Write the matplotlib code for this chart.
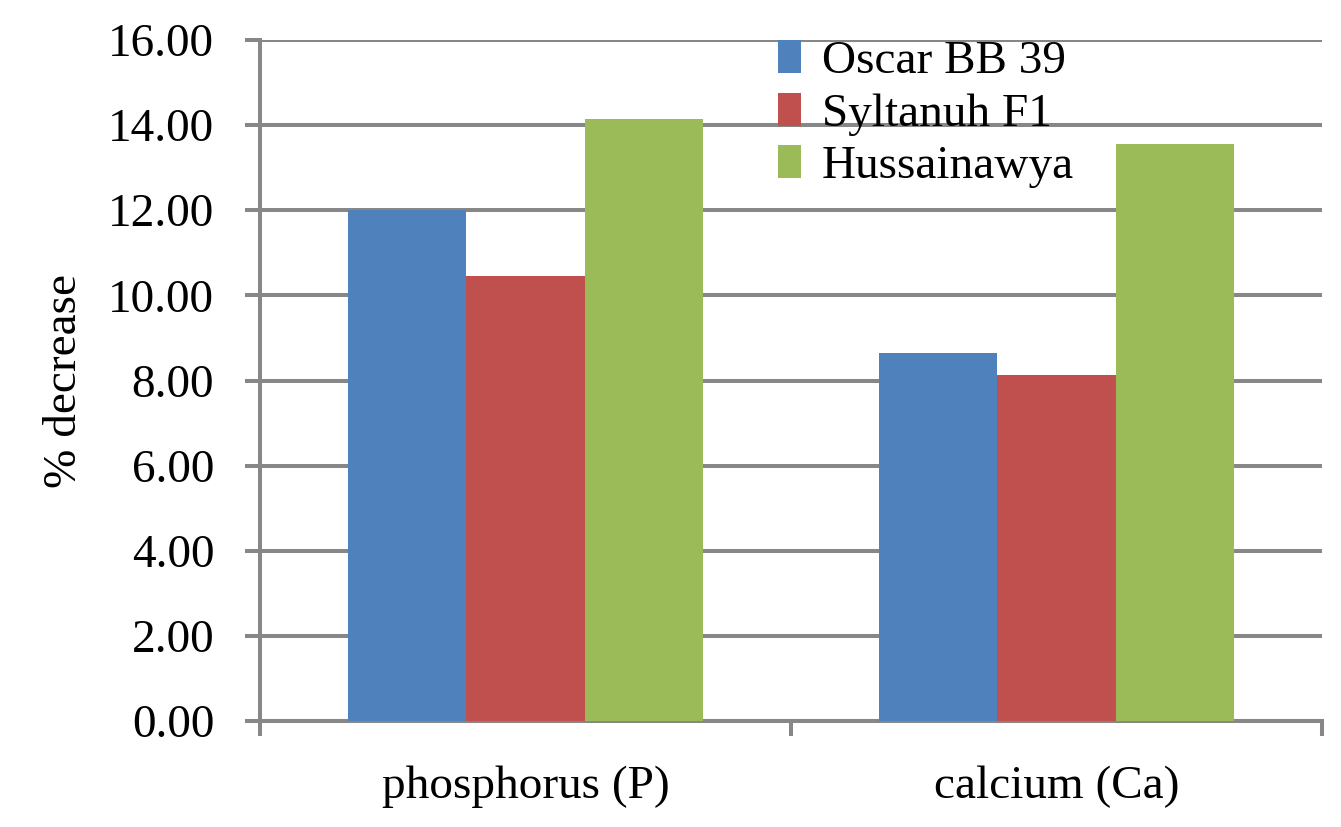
import matplotlib.pyplot as plt
import numpy as np

categories = ["phosphorus (P)", "calcium (Ca)"]
oscar = [12.00, 8.64]
syltanuh = [10.45, 8.14]
hussainawya = [14.14, 13.55]
series_names = ["Oscar BB 39", "Syltanuh F1", "Hussainawya"]
colors = ["#4F81BD", "#C0504D", "#9BBB59"]
yticks = np.arange(0, 16.01, 2)

plt.rcParams['font.family'] = ['Liberation Serif', 'DejaVu Serif']

fig = plt.figure(figsize=(13.41, 8.27), dpi=100)
ax = fig.add_axes([260/1341, 1-721/827, 1062/1341, 681/827])

x = np.arange(len(categories))
w = 0.2225
for i, (vals, name, c) in enumerate(zip([oscar, syltanuh, hussainawya], series_names, colors)):
    ax.bar(x + (i - 1) * w, vals, width=w, color=c, label=name, zorder=3)

grid_c = '#878787'
lw = 2.9
ax.set_xlim(-0.5, 1.5)
ax.set_ylim(0, 16)
ax.set_yticks(yticks)
ax.set_yticklabels([f"{v:.2f}" for v in yticks], fontsize=34)
ax.yaxis.grid(True, color=grid_c, linewidth=lw, zorder=0)
ax.tick_params(axis='y', length=11, width=lw, color=grid_c, pad=22)

ax.set_xticks([-0.5, 0.5, 1.5])
ax.set_xticklabels([])
ax.set_xticks(x, minor=True)
ax.set_xticklabels(categories, minor=True, fontsize=34)
ax.tick_params(axis='x', which='major', length=11, width=lw, color=grid_c)
ax.tick_params(axis='x', which='minor', length=0, pad=32)

for s in ['top', 'right']:
    ax.spines[s].set_visible(False)
for s in ['left', 'bottom']:
    ax.spines[s].set_color(grid_c)
    ax.spines[s].set_linewidth(lw)

ax.set_ylabel('% decrease', fontsize=34, labelpad=16)

leg = ax.legend(loc='upper left', bbox_to_anchor=(778/1341, 1-40/827),
                bbox_transform=fig.transFigure, frameon=False, fontsize=34,
                handlelength=0.48, handleheight=0.7, handletextpad=0.45,
                labelspacing=0.2, borderpad=0, borderaxespad=0)

fig.savefig('out.png', dpi=100)
